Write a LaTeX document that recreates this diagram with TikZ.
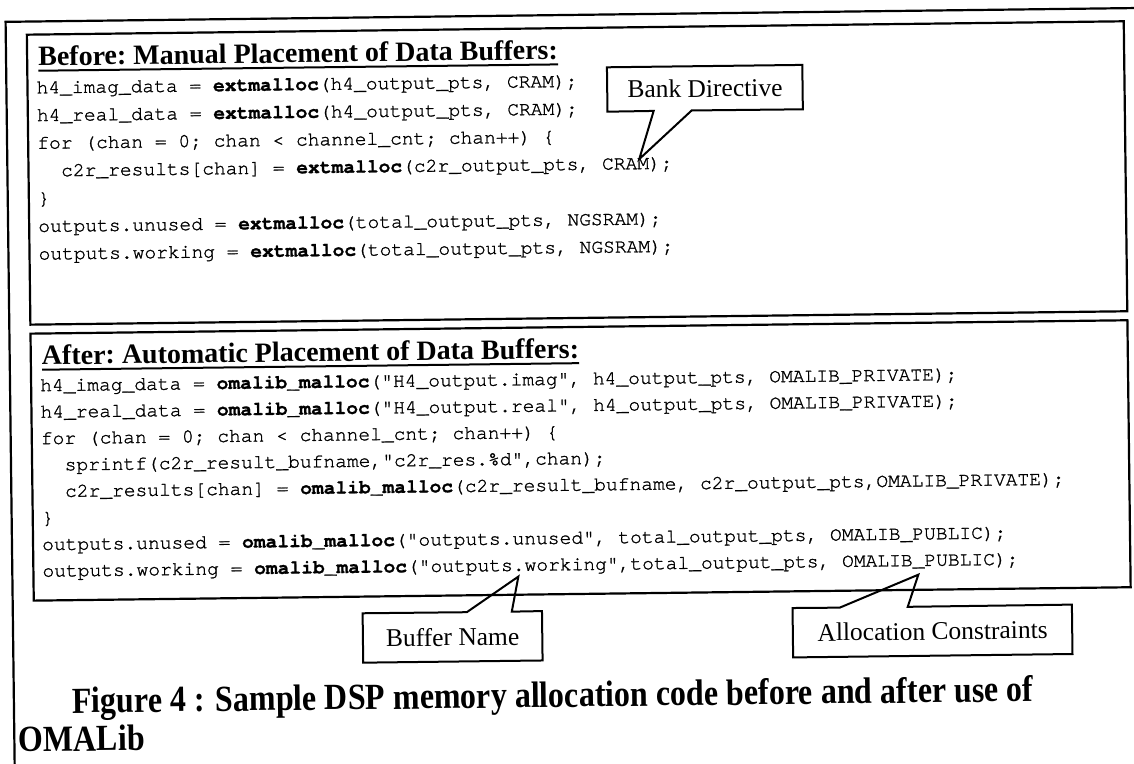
\documentclass[tikz,border=0pt]{standalone}
\usepackage{fontspec}
\setmainfont{Liberation Serif}
\setmonofont{texgyrecursor-regular.otf}[BoldFont=texgyrecursor-bold.otf, UprightFeatures={FakeBold=1.2}, BoldFeatures={FakeBold=1}]
\usetikzlibrary{calc}
\newcommand\codefnt{\fontsize{19.6}{20}\selectfont\ttfamily}
\newcommand\ttlfnt{\fontsize{28}{28}\selectfont\bfseries\frenchspacing}
\newcommand\callfnt{\fontsize{25.5}{26}\selectfont}
\newcommand\capfnt{\fontsize{32}{32}\selectfont\bfseries}
\newcommand\kwd[1]{\textbf{#1}}
\newcommand\ttlul[1]{\setbox0\hbox{#1}\rlap{\rule[-6pt]{\wd0}{2pt}}\box0}
\begin{document}
\begin{tikzpicture}[x=1pt,y=-1pt,
  frame/.style={line width=2.2pt, line join=miter},
  boxline/.style={draw, line width=2.2pt, inner sep=0pt, anchor=north west},
  codeline/.style={anchor=base west, inner sep=0pt, font=\codefnt},
  titletext/.style={anchor=base west, inner sep=0pt, font=\ttlfnt},
  callout/.style={inner sep=0pt, font=\callfnt},
  calloutline/.style={line width=2pt, line join=miter},
  captiontext/.style={anchor=base west, inner sep=0pt, font=\capfnt, yscale=1.15}]
\useasboundingbox (0,0) rectangle (1134,763);
\fill[white] (0,0) rectangle (1134,763);
\begin{scope}[rotate around={0.7:(567,381)}, every node/.append style={transform shape}]
% outer frame
\coordinate (fbot) at (10,800);
\coordinate (fcorner) at (10,15);
\coordinate (fright) at (1180,15);
\draw[frame] (fbot) -- (fcorner) -- (fright);
% boxes
\node[boxline, minimum width=1097pt, minimum height=290pt] (before) at (30,27) {};
\node[boxline, minimum width=1097pt, minimum height=267pt] (after) at (30,326) {};
% before code
\node[titletext] (bt) at (42,59.3) {\ttlul{Before: Manual Placement of Data Buffers:}};
\node[codeline] (b1) at (40,87.0) {h4\_imag\_data = \kwd{extmalloc}(h4\_output\_pts, CRAM);};
\node[codeline] (b2) at (40,114.7) {h4\_real\_data = \kwd{extmalloc}(h4\_output\_pts, CRAM);};
\node[codeline] (b3) at (40,142.4) {for (chan = 0; chan < channel\_cnt; chan++) \{};
\node[codeline] (b4) at (63.5,170.1) {c2r\_results[chan] = \kwd{extmalloc}(c2r\_output\_pts, CRAM);};
\node[codeline] (b5) at (40,197.8) {\}};
\node[codeline] (b6) at (40,225.5) {outputs.unused = \kwd{extmalloc}(total\_output\_pts, NGSRAM);};
\node[codeline] (b7) at (40,253.2) {outputs.working = \kwd{extmalloc}(total\_output\_pts, NGSRAM);};
% after code
\node[titletext] (at) at (42,358.3) {\ttlul{After: Automatic Placement of Data Buffers:}};
\node[codeline] (a1) at (40,384.8) {h4\_imag\_data = \kwd{omalib\_malloc}("H4\_output.imag", h4\_output\_pts, OMALIB\_PRIVATE);};
\node[codeline] (a2) at (40,411.3) {h4\_real\_data = \kwd{omalib\_malloc}("H4\_output.real", h4\_output\_pts, OMALIB\_PRIVATE);};
\node[codeline] (a3) at (40,437.8) {for (chan = 0; chan < channel\_cnt; chan++) \{};
\node[codeline] (a4) at (63.5,464.3) {sprintf(c2r\_result\_bufname,"c2r\_res.\%d",chan);};
\node[codeline] (a5) at (63.5,490.8) {c2r\_results[chan] = \kwd{omalib\_malloc}(c2r\_result\_bufname, c2r\_output\_pts,OMALIB\_PRIVATE);};
\node[codeline] (a6) at (40,517.3) {\}};
\node[codeline] (a7) at (40,543.8) {outputs.unused = \kwd{omalib\_malloc}("outputs.unused", total\_output\_pts, OMALIB\_PUBLIC);};
\node[codeline] (a8) at (40,570.3) {outputs.working = \kwd{omalib\_malloc}("outputs.working",total\_output\_pts, OMALIB\_PUBLIC);};
% callout: Bank Directive
\node[callout, minimum width=195pt, minimum height=44pt] (bank) at (708.5,90) {Bank Directive};
\coordinate (bankL) at (657,112);
\coordinate (bankR) at (695,112);
\coordinate (banktip) at (642,160);
\draw[calloutline] (bank.south west) -- (bankL) -- (banktip) -- (bankR) -- (bank.south east) -- (bank.north east) -- (bank.north west) -- cycle;
% callout: Buffer Name
\node[callout, minimum width=179pt, minimum height=49pt] (buf) at (449.5,635.5) {Buffer Name};
\coordinate (bufL) at (464,611);
\coordinate (bufR) at (509,611);
\coordinate (buftip) at (516,576);
\draw[calloutline] (buf.north west) -- (bufL) -- (buftip) -- (bufR) -- (buf.north east) -- (buf.south east) -- (buf.south west) -- cycle;
% callout: Allocation Constraints
\node[callout, minimum width=279pt, minimum height=49pt] (alloc) at (929.5,635.5) {Allocation Constraints};
\coordinate (allocL) at (837,611);
\coordinate (allocR) at (905,611);
\coordinate (alloctip) at (916,579);
\draw[calloutline] (alloc.north west) -- (allocL) -- (alloctip) -- (allocR) -- (alloc.north east) -- (alloc.south east) -- (alloc.south west) -- cycle;
% caption
\node[captiontext] (cap1) at (68,707) {Figure 4 : Sample DSP memory allocation code before and after use of};
\node[captiontext] (cap2) at (14,745) {OMALib};
\end{scope}
\end{tikzpicture}
\end{document}
